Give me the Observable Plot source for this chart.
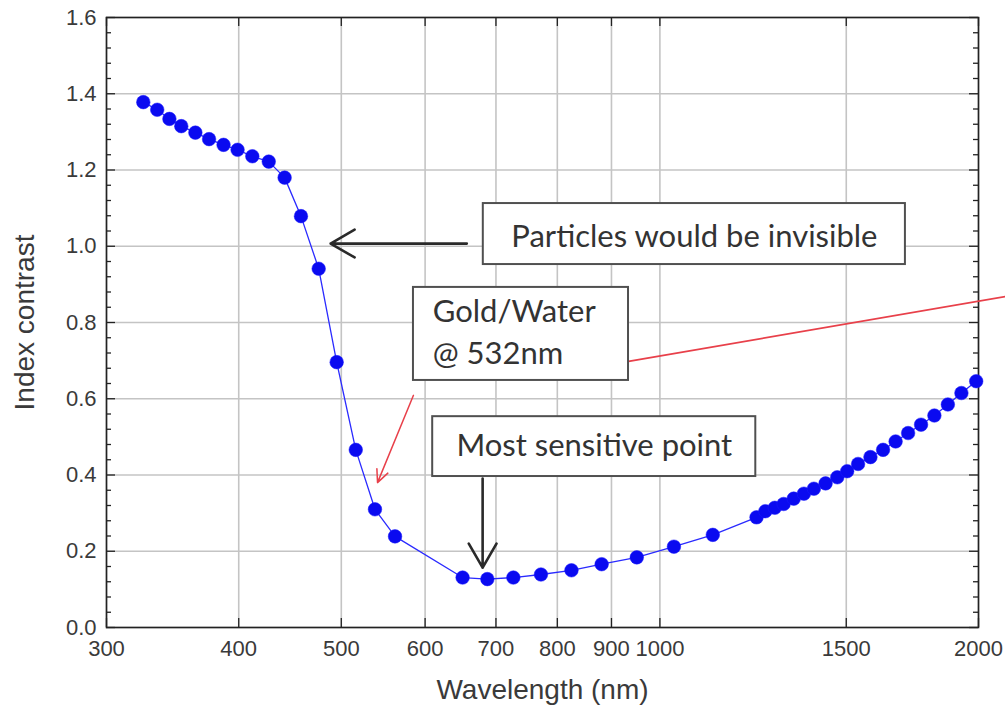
<!DOCTYPE html>
<html>
<head>
<meta charset="utf-8">
<script src="https://cdn.jsdelivr.net/npm/d3@7"></script>
<script src="https://cdn.jsdelivr.net/npm/@observablehq/plot@0.6"></script>
<style>
  html, body { margin: 0; padding: 0; background: #fff; }
  #chart svg { display: block; }
</style>
</head>
<body>
<div id="chart"></div>
<script>
// Gold/water refractive index contrast versus wavelength
const wavelength = [
  325, 335, 344, 353, 364, 375, 387, 399, 412, 427,
  442, 458, 476, 495, 516, 538, 562, 651, 687, 727,
  772, 825, 881, 951, 1031, 1122, 1234, 1258, 1284, 1309,
  1338, 1368, 1398, 1434, 1471, 1503, 1539, 1581, 1625, 1670,
  1716, 1765, 1817, 1871, 1927, 1990
];
const contrast = [
  1.378, 1.358, 1.334, 1.315, 1.298, 1.281, 1.266, 1.253, 1.236, 1.222,
  1.180, 1.079, 0.941, 0.696, 0.466, 0.310, 0.239, 0.131, 0.127, 0.131,
  0.139, 0.150, 0.166, 0.184, 0.212, 0.243, 0.289, 0.305, 0.314, 0.324,
  0.338, 0.351, 0.364, 0.378, 0.394, 0.410, 0.429, 0.447, 0.466, 0.488,
  0.510, 0.532, 0.556, 0.585, 0.615, 0.646
];

const xTicks = [300, 400, 500, 600, 700, 800, 900, 1000, 1500, 2000];
const yTicks = [0, 0.2, 0.4, 0.6, 0.8, 1.0, 1.2, 1.4, 1.6];
const yMinorTicks = d3.range(0, 41).map(i => i * 0.04).filter((v, i) => i % 5 !== 0);

const xLabel = "Wavelength (nm)";
const yLabel = "Index contrast";

// Callout boxes (wavelength / contrast extents)
const boxText = ["Particles would be invisible", "Gold/Water\n@ 532nm", "Most sensitive point"];
const boxX1 = [681, 585, 610];
const boxX2 = [1706, 934, 1232];
const boxY1 = [0.952, 0.648, 0.396];
const boxY2 = [1.112, 0.892, 0.553];
const boxTextX = [1078, 610, 867];
const boxTextY = [1.032, 0.782, 0.484];
const boxAnchor = ["middle", "start", "middle"];

// Black pointer arrows
const blackArrowX1 = [657, 680];
const blackArrowY1 = [1.007, 0.391];
const blackArrowX2 = [488.5, 680];
const blackArrowY2 = [1.007, 0.157];

// Red pointers for the 532 nm callout
const redArrow = {x1: 585, y1: 0.609, x2: 541, y2: 0.380};
const redLine = {x1: 934, y1: 0.698, x2: 2121, y2: 0.868};

const points = wavelength.map((w, i) => ({w, c: contrast[i]}));
const boxes = boxText.map((t, i) => ({
  t, x1: boxX1[i], x2: boxX2[i], y1: boxY1[i], y2: boxY2[i],
  tx: boxTextX[i], ty: boxTextY[i], anchor: boxAnchor[i]
}));
const arrows = blackArrowX1.map((x1, i) => ({
  x1, y1: blackArrowY1[i], x2: blackArrowX2[i], y2: blackArrowY2[i]
}));

const W = 1005, H = 718;
const mL = 106, mR = 27, mT = 17, mB = 91;
const fw = W - mL - mR, fh = H - mT - mB;
const axisFont = "'Liberation Sans', Arial, sans-serif";
const noteFont = "Lato, 'Open Sans', sans-serif";
const noteStyle = {x: "tx", y: "ty", text: "t", fontFamily: noteFont, fontSize: 31, lineHeight: 1.35, fill: "#333"};

const chart = Plot.plot({
  width: W,
  height: H,
  marginLeft: mL,
  marginRight: mR,
  marginTop: mT,
  marginBottom: mB,
  style: {fontFamily: axisFont, color: "#3a3a3a", background: "#fff", overflow: "visible"},
  x: {type: "log", domain: [300, 2000]},
  y: {domain: [0, 1.6]},
  marks: [
    Plot.gridX(xTicks, {stroke: "#c4c4c4", strokeOpacity: 1, strokeWidth: 1.6}),
    Plot.gridY(yTicks, {stroke: "#c4c4c4", strokeOpacity: 1, strokeWidth: 1.6}),
    // inward tick marks on all four sides
    Plot.ruleX(xTicks, {x: d => d, insetTop: fh - 9, stroke: "#222", strokeWidth: 1.3}),
    Plot.ruleX(xTicks, {x: d => d, insetBottom: fh - 9, stroke: "#222", strokeWidth: 1.3}),
    Plot.ruleY(yTicks, {y: d => d, insetRight: fw - 9, stroke: "#222", strokeWidth: 1.3}),
    Plot.ruleY(yTicks, {y: d => d, insetLeft: fw - 9, stroke: "#222", strokeWidth: 1.3}),
    Plot.ruleY(yMinorTicks, {y: d => d, insetRight: fw - 5, stroke: "#222", strokeWidth: 1.3}),
    Plot.ruleY(yMinorTicks, {y: d => d, insetLeft: fw - 5, stroke: "#222", strokeWidth: 1.3}),
    Plot.axisX({ticks: xTicks, tickFormat: d => `${d}`, tickSize: 0, tickPadding: 13, fontSize: 22, label: null}),
    Plot.axisY({ticks: yTicks, tickFormat: d3.format(".1f"), tickSize: 0, tickPadding: 10, fontSize: 22, label: null}),
    Plot.text([xLabel], {frameAnchor: "bottom", dy: 71, fontSize: 28, fill: "#3a3a3a"}),
    Plot.text([yLabel], {frameAnchor: "left", textAnchor: "middle", dx: -81, rotate: -90, fontSize: 28, fill: "#3a3a3a"}),
    Plot.frame({stroke: "#222", strokeWidth: 1.6}),
    // series
    Plot.line(points, {x: "w", y: "c", stroke: "#2a2aff", strokeWidth: 1.3}),
    Plot.dot(points, {x: "w", y: "c", r: 6.8, fill: "#0a0af0", stroke: "#1a1aff", strokeWidth: 0.5}),
    // red pointers
    Plot.link([redLine], {x1: "x1", y1: "y1", x2: "x2", y2: "y2", stroke: "#e8404a", strokeWidth: 1.8}),
    Plot.arrow([redArrow], {x1: "x1", y1: "y1", x2: "x2", y2: "y2", stroke: "#e8404a", strokeWidth: 1.5, headLength: 14, headAngle: 50}),
    // black pointers
    Plot.arrow(arrows, {x1: "x1", y1: "y1", x2: "x2", y2: "y2", stroke: "#2a2a2a", strokeWidth: 2.6, headLength: 16, headAngle: 60}),
    // callout boxes
    Plot.rect(boxes, {x1: "x1", x2: "x2", y1: "y1", y2: "y2", fill: "#fff", stroke: "#505050", strokeWidth: 2}),
    Plot.text(boxes.filter(d => d.anchor === "middle"), {...noteStyle, textAnchor: "middle"}),
    Plot.text(boxes.filter(d => d.anchor === "start"), {...noteStyle, textAnchor: "start"})
  ]
});

document.getElementById("chart").appendChild(chart);
</script>
</body>
</html>
